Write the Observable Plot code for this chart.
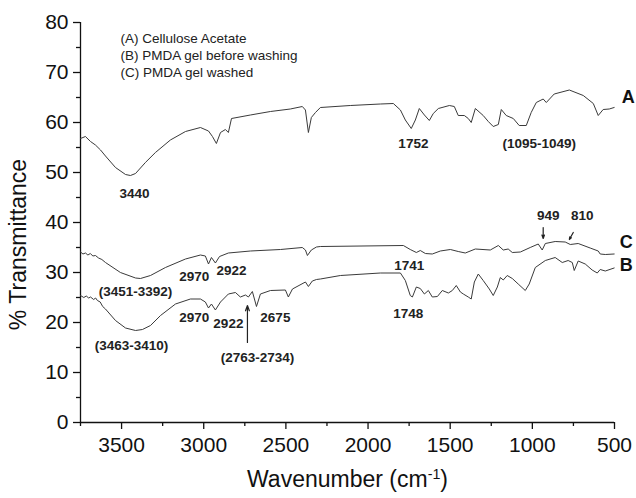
<!DOCTYPE html>
<html>
<head>
<meta charset="utf-8">
<script src="https://cdn.jsdelivr.net/npm/d3@7"></script>
<script src="https://cdn.jsdelivr.net/npm/@observablehq/plot@0.6"></script>
<style>
  html, body { margin: 0; padding: 0; background: #fff; }
</style>
</head>
<body>
<div id="chart"></div>
<script>
// Spectrum A: Cellulose Acetate  [wavenumber, %T]
const specA = [
  [3750,56.8],[3720,57.2],[3689,56.2],[3659,55.5],[3628,54.5],[3598,53.3],[3537,51],[3476,49.6],
  [3446,49.4],[3415,49.8],[3355,52],[3294,54],[3203,56.5],[3111,58.2],[3020,59],[2971,58.3],
  [2947,57.2],[2923,55.8],[2898,58],[2868,58.6],[2850,58],[2831,60.8],[2716,61.5],[2594,62.2],
  [2473,62.7],[2400,63.2],[2381,62.5],[2363,58],[2345,61],[2320,62],[2290,63],[2108,63.4],
  [1925,63.7],[1846,63.8],[1803,62.5],[1773,60.5],[1737,58.8],[1712,60.5],[1688,62.8],[1657,61.5],
  [1627,60.4],[1603,61.8],[1572,62.8],[1505,63.4],[1475,63.2],[1451,61.4],[1414,61.4],[1390,60.8],
  [1372,60],[1347,62.8],[1299,61.4],[1268,60.2],[1238,59.2],[1207,59.6],[1189,62.6],[1159,61.4],
  [1116,60.8],[1080,59.4],[1037,59.4],[1007,62],[976,64],[934,64.7],[915,64],[867,65.7],
  [775,66.5],[690,65.4],[629,63.8],[599,61.4],[569,62.6],[532,62.7],[502,63]
];
// Spectrum B: PMDA gel before washing
const specB = [
  [3750,25.4],[3730,25],[3715,25.3],[3700,24.9],[3689,25.1],[3670,24.6],[3658,24.9],[3647,24.4],
  [3630,24.1],[3615,23.2],[3598,22.7],[3537,20.4],[3476,18.9],[3415,18.4],[3373,18.6],
  [3324,19.4],[3263,21.4],[3172,23.7],[3081,24.7],[3020,24.7],[2990,24.1],[2971,22.9],[2953,23.7],
  [2929,22.5],[2898,24.1],[2850,25.7],[2807,26],[2777,25.1],[2746,25.5],[2728,25.1],[2704,26.2],
  [2679,23.2],[2655,25.7],[2594,26.4],[2503,26.5],[2485,25.1],[2460,26.7],[2381,28.1],[2363,27.2],
  [2339,28.3],[2314,28.6],[2290,28.7],[2168,29.4],[1925,29.9],[1803,29.9],[1773,28.4],[1743,25.4],
  [1730,25.1],[1706,27.1],[1682,26.8],[1657,25.7],[1633,26.4],[1609,25.1],[1578,25.2],[1548,26.4],
  [1511,25.9],[1487,26.4],[1463,27.4],[1438,26.1],[1420,25.7],[1390,25.1],[1372,24.7],[1353,28.1],
  [1329,29.7],[1299,28.4],[1262,26.7],[1238,25.4],[1213,27.1],[1195,29],[1177,28.5],[1153,29.4],
  [1122,28.8],[1086,27.7],[1043,26.4],[1019,27.7],[982,31],[921,32.4],[861,33],[818,32],
  [782,32.4],[757,32],[745,30.4],[721,32.3],[678,31.7],[636,30.5],[605,29.9],[587,30.6],
  [556,30.3],[502,30.9]
];
// Spectrum C: PMDA gel washed
const specC = [
  [3750,34.1],[3735,33.7],[3720,33.9],[3705,33.5],[3690,33.8],[3675,33.3],[3659,33.4],[3640,32.9],
  [3620,32.6],[3598,32],[3507,30],[3415,28.9],[3385,28.8],[3324,29.4],
  [3233,31],[3111,32.7],[3020,33.5],[2990,33.3],[2971,31.7],[2953,33],[2929,31.9],[2904,33.2],
  [2850,33.9],[2716,34.3],[2533,34.6],[2400,35],[2381,34.5],[2369,33.4],[2345,34.5],[2314,35.1],
  [2290,35.2],[1785,35.4],[1743,34.6],[1706,34],[1682,34.4],[1651,33.8],[1609,33.7],[1560,34.3],
  [1499,34.6],[1451,34.2],[1408,33.9],[1347,34.7],[1256,34.5],[1207,35.4],[1177,34.5],[1147,34.7],
  [1122,34],[1073,34.1],[1013,35],[964,35.7],[940,34.5],[921,35.8],[861,36.2],[800,36.1],
  [769,35.6],[721,35.8],[648,34.9],[599,34.3],[587,33.7],[556,33.6],[502,33.7]
];

const xMajorTicks = [3500, 3000, 2500, 2000, 1500, 1000, 500];
const xMinorTicks = [3750, 3250, 2750, 2250, 1750, 1250, 750];
const yMajorTicks = [0, 10, 20, 30, 40, 50, 60, 70, 80];
const yMinorTicks = [5, 15, 25, 35, 45, 55, 65, 75];

const xTitle = "Wavenumber (cm-1)";
const yTitle = "% Transmittance";

const legendLines = [
  "(A) Cellulose Acetate",
  "(B) PMDA gel before washing",
  "(C) PMDA gel washed"
];
const legendY = [76.8, 73.4, 70];

// peak annotations [wavenumber, %T, text]
const peakLabels = [
  [3422, 45.8, "3440"],
  [1724, 55.8, "1752"],
  [958, 55.8, "(1095-1049)"],
  [903, 41.4, "949"],
  [696, 41.4, "810"],
  [3057, 29.2, "2970"],
  [2831, 30.4, "2922"],
  [3415, 26.2, "(3451-3392)"],
  [3057, 21, "2970"],
  [2850, 19.8, "2922"],
  [2564, 21, "2675"],
  [3440, 15.4, "(3463-3410)"],
  [2673, 13, "(2763-2734)"],
  [1749, 31.4, "1741"],
  [1755, 21.8, "1748"]
];
const curveLetters = [
  [417, 65, "A"],
  [429, 36, "C"],
  [429, 31.4, "B"]
];
// arrows [x1, y1, x2, y2]
const peakArrows = [
  [934, 39, 934, 36.8],
  [751, 38, 775, 36.6],
  [2734, 16, 2734, 23.4]
];

const toRows = (arr) => arr.map(([x, y]) => ({x, y}));
const ink = "#3a3a3a";
const font = "'Liberation Sans', Arial, sans-serif";

const chart = Plot.plot({
  width: 636,
  height: 498,
  marginLeft: 80,
  marginRight: 22,
  marginTop: 22,
  marginBottom: 76,
  style: {fontFamily: font, background: "#fff", color: "#111"},
  x: {domain: [3750, 500]},
  y: {domain: [0, 80]},
  marks: [
    Plot.ruleX([3750], {stroke: "#111", strokeWidth: 1.3}),
    Plot.ruleY([0], {stroke: "#111", strokeWidth: 1.3}),
    Plot.axisY({ticks: yMajorTicks, tickFormat: d3.format("d"), tickSize: 7, tickPadding: 5, fontSize: 21, label: null, stroke: "#111", strokeWidth: 1.3}),
    Plot.axisY({ticks: yMinorTicks, tickSize: 4, tickFormat: () => "", label: null, stroke: "#111", strokeWidth: 1.3}),
    Plot.axisX({ticks: xMajorTicks, tickFormat: d3.format("d"), tickSize: 7, tickPadding: 8, fontSize: 21, label: null, stroke: "#111", strokeWidth: 1.3}),
    Plot.axisX({ticks: xMinorTicks, tickSize: 4, tickFormat: () => "", label: null, stroke: "#111", strokeWidth: 1.3}),
    Plot.lineY(toRows(specA), {x: "x", y: "y", stroke: ink, strokeWidth: 1}),
    Plot.lineY(toRows(specB), {x: "x", y: "y", stroke: ink, strokeWidth: 1}),
    Plot.lineY(toRows(specC), {x: "x", y: "y", stroke: ink, strokeWidth: 1}),
    Plot.text(legendLines, {x: 3507, y: (d, i) => legendY[i], text: d => d, textAnchor: "start", fontSize: 13.5, fill: "#222"}),
    Plot.text(peakLabels, {x: d => d[0], y: d => d[1], text: d => d[2], fontSize: 13.5, fontWeight: "bold", fill: "#222"}),
    Plot.text(curveLetters, {x: d => d[0], y: d => d[1], text: d => d[2], fontSize: 18, fontWeight: "bold", fill: "#111"}),
    Plot.arrow(peakArrows, {x1: d => d[0], y1: d => d[1], x2: d => d[2], y2: d => d[3], stroke: "#222", strokeWidth: 1.2, headLength: 7, headAngle: 40}),
    Plot.text([xTitle], {frameAnchor: "bottom", textAnchor: "middle", lineAnchor: "middle", dy: 57, fontSize: 23, fill: "#111", letterSpacing: "0.5px"}),
    Plot.text([yTitle], {frameAnchor: "left", textAnchor: "middle", lineAnchor: "middle", rotate: -90, dx: -62, dy: 22, fontSize: 23, fill: "#111", letterSpacing: "1px"})
  ]
});

// render the "-1" of cm-1 as a superscript
d3.select(chart).selectAll("text")
  .filter(function() { return this.textContent === xTitle; })
  .each(function() {
    const t = d3.select(this);
    t.text(null);
    t.append("tspan").text("Wavenumber (cm");
    t.append("tspan").attr("baseline-shift", "super").attr("font-size", "0.62em").text("-1");
    t.append("tspan").text(")");
  });

document.getElementById("chart").appendChild(chart);
</script>
</body>
</html>
